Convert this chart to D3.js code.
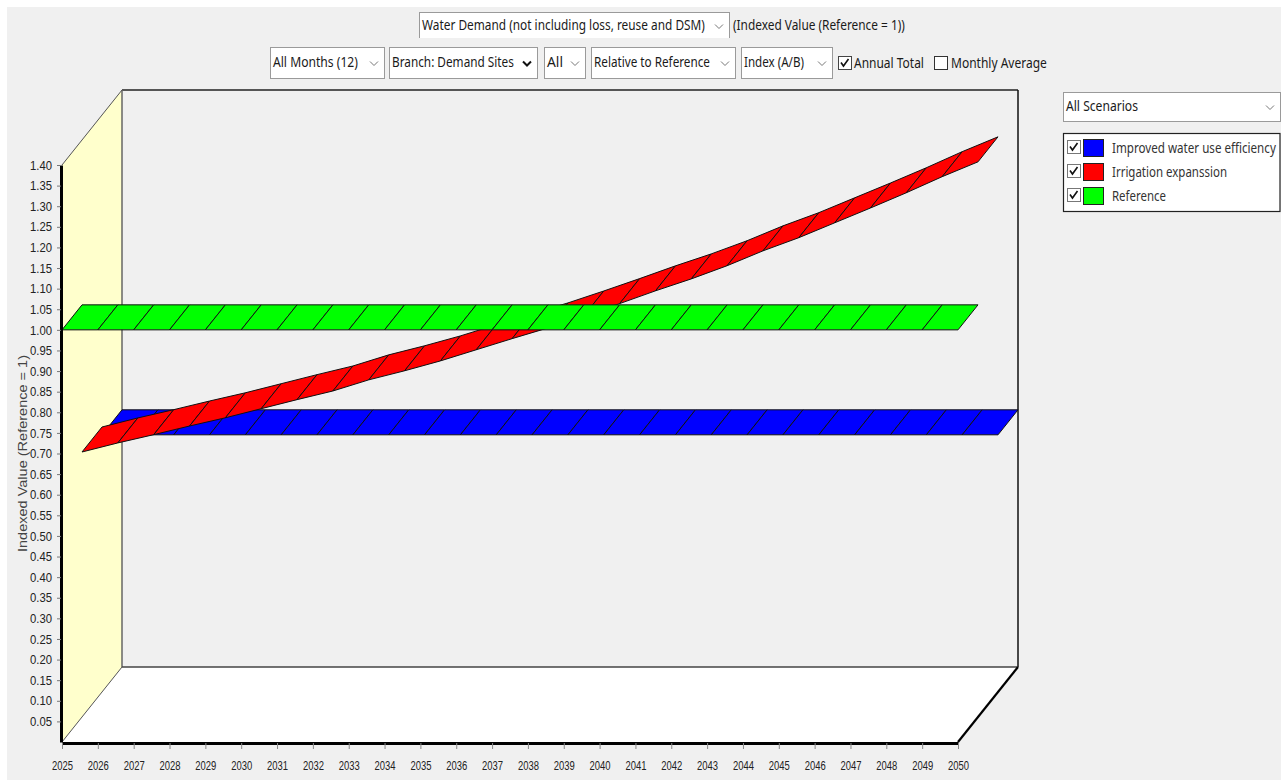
<!DOCTYPE html>
<html>
<head>
<meta charset="utf-8">
<script src="https://cdn.jsdelivr.net/npm/d3@7"></script>
<style>
  html, body { margin: 0; padding: 0; background: #fff; overflow: hidden; }
  svg { display: block; }
</style>
</head>
<body>
<svg id="chart" width="1281" height="780"></svg>
<script>
// Water demand index by scenario, relative to the Reference scenario
const years = d3.range(2025, 2051);
const yTicks = d3.range(1, 29).map(k => k * 0.05);

const referenceValues = years.map(() => 1.0);
const efficiencyValues = years.map(() => 0.624);
const irrigationValues = [
  0.643, 0.665, 0.685, 0.706, 0.726, 0.748, 0.770, 0.791, 0.818, 0.840,
  0.864, 0.891, 0.918, 0.944, 0.973, 1.003, 1.034, 1.063, 1.095, 1.131,
  1.163, 1.199, 1.235, 1.272, 1.311, 1.347
];

const scenarioNames = ["Improved water use efficiency", "Irrigation expanssion", "Reference"];
const scenarioColors = ["#0000ff", "#ff0000", "#00ff00"];

// Ribbons painted back to front; depth 0 sits on the front plane
const ribbons = [
  { values: efficiencyValues, color: scenarioColors[0], depth: 2 },
  { values: irrigationValues, color: scenarioColors[1], depth: 1 },
  { values: referenceValues, color: scenarioColors[2], depth: 0 }
];

const svg = d3.select("#chart");
const uiFont = "'Noto Sans', sans-serif";
const axisFont = "'Liberation Sans', Arial, sans-serif";

const x = d3.scaleLinear().domain([2025, 2050]).range([62, 958]);
const y = d3.scaleLinear().domain([0, 1.4]).range([742, 165]);
const depthX = d3.scaleLinear().domain([0, 3]).range([0, 60]);
const depthY = d3.scaleLinear().domain([0, 3]).range([0, -75]);

const project = (year, value, depth) => [x(year) + depthX(depth), y(value) + depthY(depth)];
const polygon = pts => "M" + pts.map(p => p.join(",")).join("L") + "Z";

// Window background
svg.append("rect").attr("x", 7).attr("y", 7).attr("width", 1274).attr("height", 773).attr("fill", "#f0f0f0");

// Back wall, side wall and floor of the 3D box
const yearStart = 2025, yearEnd = 2050, valueMax = 1.4, depthMax = 3;
svg.append("path")
  .attr("d", polygon([project(yearStart, 0, depthMax), project(yearStart, valueMax, depthMax), project(yearEnd, valueMax, depthMax), project(yearEnd, 0, depthMax)]))
  .attr("fill", "#f0f0f0").attr("stroke", "none");
svg.append("path")
  .attr("d", polygon([project(yearStart, 0, 0), project(yearStart, valueMax, 0), project(yearStart, valueMax, depthMax), project(yearStart, 0, depthMax)]))
  .attr("fill", "#ffffcc").attr("stroke", "none");
svg.append("path")
  .attr("d", polygon([project(yearStart, 0, 0), project(yearStart, 0, depthMax), project(yearEnd, 0, depthMax), project(yearEnd, 0, 0)]))
  .attr("fill", "#ffffff").attr("stroke", "none");

const edge = (a, b, color, width) => svg.append("line")
  .attr("x1", a[0]).attr("y1", a[1]).attr("x2", b[0]).attr("y2", b[1])
  .attr("stroke", color).attr("stroke-width", width);

edge(project(yearStart, valueMax, depthMax), project(yearEnd, valueMax, depthMax), "#222", 1.3);
edge(project(yearEnd, valueMax, depthMax), project(yearEnd, 0, depthMax), "#111", 1.5);
edge(project(yearStart, valueMax, depthMax), project(yearStart, 0, depthMax), "#666", 1.5);
edge(project(yearStart, 0, depthMax), project(yearEnd, 0, depthMax), "#444", 1.5);
edge(project(yearStart, valueMax, 0), project(yearStart, valueMax, depthMax), "#555", 1);
edge(project(yearStart, 0, 0), project(yearStart, 0, depthMax), "#555", 1);
edge(project(yearEnd, 0, 0), project(yearEnd, 0, depthMax), "#000", 2.2);

// Scenario ribbons, one parallelogram per year step
ribbons.forEach(r => {
  svg.append("g").selectAll("path")
    .data(d3.pairs(years.map((yr, i) => [yr, r.values[i]])))
    .join("path")
    .attr("d", ([a, b]) => polygon([
      project(a[0], a[1], r.depth),
      project(b[0], b[1], r.depth),
      project(b[0], b[1], r.depth + 1),
      project(a[0], a[1], r.depth + 1)
    ]))
    .attr("fill", r.color)
    .attr("stroke", "#111")
    .attr("stroke-width", 1)
    .attr("stroke-linejoin", "round");
});

// Axes
const yAxis = svg.append("g").attr("transform", "translate(61,0)")
  .call(d3.axisLeft(y).tickValues(yTicks).tickFormat(d3.format(".2f")).tickSizeInner(4).tickSizeOuter(0).tickPadding(5));
yAxis.select(".domain").attr("stroke", "#000").attr("stroke-width", 3);
yAxis.selectAll(".tick line").attr("stroke", "#777");
yAxis.selectAll("text")
  .attr("font-family", axisFont).attr("font-size", 13).attr("fill", "#222")
  .attr("textLength", 22).attr("lengthAdjust", "spacingAndGlyphs");

const xAxis = svg.append("g").attr("transform", "translate(0,743)")
  .call(d3.axisBottom(x).tickValues(years).tickFormat(d3.format("d")).tickSizeInner(6).tickSizeOuter(0).tickPadding(12));
xAxis.select(".domain").attr("stroke", "#000").attr("stroke-width", 3);
xAxis.selectAll(".tick line").attr("stroke", "#888");
xAxis.selectAll("text")
  .attr("font-family", axisFont).attr("font-size", 13).attr("fill", "#222")
  .attr("textLength", 21).attr("lengthAdjust", "spacingAndGlyphs");

svg.append("text")
  .attr("transform", "translate(27,453.5) rotate(-90)")
  .attr("text-anchor", "middle")
  .attr("font-family", axisFont).attr("font-size", 12).attr("fill", "#444")
  .attr("textLength", 197).attr("lengthAdjust", "spacingAndGlyphs")
  .text("Indexed Value (Reference = 1)");

// Toolbar text is squeezed horizontally to the width of its control
function uiText(label, tx, ty, width, color = "#1a1a1a") {
  const t = svg.append("text")
    .attr("font-family", uiFont).attr("font-size", 15).attr("fill", color)
    .text(label);
  const natural = t.node().getComputedTextLength();
  t.attr("transform", `translate(${tx},${ty}) scale(${width / natural},1)`);
  return t;
}

function dropdown(label, left, right, boxTop, boxBottom, textWidth, opts = {}) {
  svg.append("rect")
    .attr("x", left + 0.5).attr("y", boxTop + 0.5)
    .attr("width", right - left).attr("height", boxBottom - boxTop)
    .attr("fill", "#fff").attr("stroke", opts.border || "#9a9a9a");
  uiText(label, left + 3, (boxTop + boxBottom) / 2 + 4, textWidth);
  const cx = right - 10, cy = (boxTop + boxBottom) / 2 + 1;
  svg.append("path")
    .attr("d", `M${cx - 4},${cy - 2}L${cx},${cy + 2}L${cx + 4},${cy - 2}`)
    .attr("fill", "none")
    .attr("stroke", opts.strong ? "#111" : "#777")
    .attr("stroke-width", opts.strong ? 2 : 1);
}

dropdown("Water Demand (not including loss, reuse and DSM)", 419, 729, 12, 39, 283);
svg.append("rect").attr("x", 418).attr("y", 38).attr("width", 313).attr("height", 3).attr("fill", "#f0f0f0");
uiText("(Indexed Value (Reference = 1))", 733, 30, 172);

dropdown("All Months (12)", 270, 384, 47, 78, 85);
dropdown("Branch: Demand Sites", 389, 537, 47, 78, 122, { strong: true });
dropdown("All", 544, 585, 47, 78, 16);
dropdown("Relative to Reference", 591, 735, 47, 78, 116);
dropdown("Index (A/B)", 741, 832, 47, 78, 60);
dropdown("All Scenarios", 1063, 1280, 92, 121, 72);

function checkbox(cx, cy, size, checked, stroke) {
  svg.append("rect")
    .attr("x", cx + 0.5).attr("y", cy + 0.5).attr("width", size).attr("height", size)
    .attr("fill", "#fff").attr("stroke", stroke);
  if (checked) {
    svg.append("path")
      .attr("d", `M${cx + 3},${cy + size * 0.5}L${cx + size * 0.42},${cy + size - 3}L${cx + size - 2.5},${cy + 3}`)
      .attr("fill", "none").attr("stroke", "#111").attr("stroke-width", 1.6);
  }
}

checkbox(838, 56, 13, true, "#444");
uiText("Annual Total", 854, 68, 70);
checkbox(934, 56, 13, false, "#333");
uiText("Monthly Average", 951, 68, 96);

// Scenario legend
svg.append("rect")
  .attr("x", 1063.5).attr("y", 133.5).attr("width", 216.5).attr("height", 78)
  .attr("fill", "#fff").attr("stroke", "#222").attr("stroke-width", 1.2);

const legendWidths = [164, 115, 54];
scenarioNames.forEach((name, i) => {
  const rowTop = 139 + i * 24;
  checkbox(1067, rowTop + 1, 13, true, "#777");
  svg.append("rect")
    .attr("x", 1083.5).attr("y", rowTop + 0.5).attr("width", 20).attr("height", 17)
    .attr("fill", scenarioColors[i]).attr("stroke", "#222");
  uiText(name, 1112, rowTop + 14, legendWidths[i], "#333");
});
</script>
</body>
</html>
